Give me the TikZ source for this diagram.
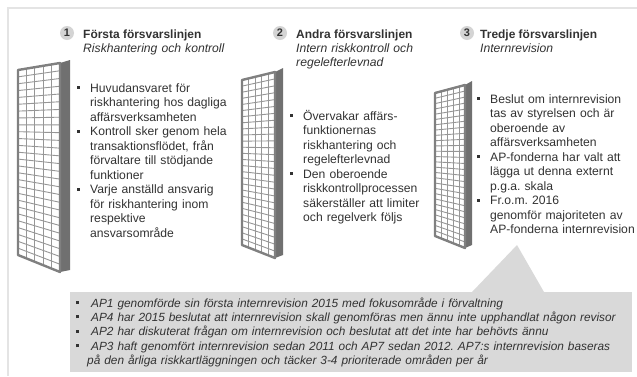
\documentclass[tikz,border=0pt]{standalone}
\usepackage{fontspec}
\setmainfont{Liberation Sans}
\usetikzlibrary{positioning,calc}
\frenchspacing
\definecolor{inkgray}{RGB}{50,50,50}
\definecolor{framegray}{RGB}{228,228,228}
\definecolor{notegray}{RGB}{217,217,217}
\definecolor{pillarline}{RGB}{150,150,150}
\definecolor{pillaredge}{RGB}{128,128,128}
\definecolor{pillarside}{RGB}{112,112,112}
\definecolor{numgray}{RGB}{212,212,212}
\newcommand{\sqbullet}{\raisebox{0.25em}{\rule{3bp}{3bp}}}
\newcommand{\itm}[1][13bp]{\leavevmode\llap{\makebox[#1][l]{\sqbullet}}}
\tikzset{
    num/.style={circle, fill=numgray, minimum size=14bp, inner sep=0pt, text=inkgray,
                font=\bfseries\fontsize{11}{11}\selectfont},
    head/.style={anchor=base west, inner sep=0pt, text=inkgray,
                 font=\bfseries\fontsize{12}{14.5}\selectfont},
    subhead/.style={anchor=base west, inner sep=0pt, text=inkgray, text width=170bp,
                    align=left, font=\itshape\fontsize{12.2}{14.5}\selectfont},
    bullets/.style={anchor=base west, inner sep=0pt, text=inkgray, text width=#1,
                    align=left, font=\fontsize{12.2}{14.6}\selectfont},
    note/.style={fill=notegray, inner sep=0pt, anchor=north west},
    outerframe/.style={draw=framegray, line width=1.5bp},
    face/.style={fill=white},
    gridline/.style={draw=pillarline, line width=0.9bp},
    faceedge/.style={draw=pillaredge, line width=2.4bp, line join=round},
    sideface/.style={fill=pillarside},
}

\begin{document}
\begin{tikzpicture}[x=1bp, y=-1bp]
    \useasboundingbox (0,0) rectangle (637,376);

    % Outer frame
    \draw[outerframe] (637,8) -- (8,8) -- (8,376);

    % Pillars: front face corners, then the side face
    \foreach \n/\xl/\xr/\xs/\ytl/\ytr/\yts/\ybl/\ybr/\ybs in
        {1/18/60/70/70/63/60/255/272/270,
         2/242/275/283/80/72/68/245/258/255,
         3/435/465/472/93/85/81/236/248/245}{
        \coordinate (p\n-tl) at (\xl,\ytl);
        \coordinate (p\n-tr) at (\xr,\ytr);
        \coordinate (p\n-br) at (\xr,\ybr);
        \coordinate (p\n-bl) at (\xl,\ybl);
        \coordinate (p\n-ts) at (\xs,\yts);
        \coordinate (p\n-bs) at (\xs,\ybs);
        \fill[sideface] (p\n-tr) -- (p\n-ts) -- (p\n-bs) -- (p\n-br) -- cycle;
        \fill[face] (p\n-tl) -- (p\n-tr) -- (p\n-br) -- (p\n-bl) -- cycle;
        \foreach \i in {1,...,4}
            \draw[gridline] ($(p\n-tl)!\i/5!(p\n-tr)$) -- ($(p\n-bl)!\i/5!(p\n-br)$);
        \foreach \j in {1,...,26}
            \draw[gridline] ($(p\n-tl)!\j/27!(p\n-bl)$) -- ($(p\n-tr)!\j/27!(p\n-br)$);
        \draw[faceedge] (p\n-tl) -- (p\n-tr) -- (p\n-br) -- (p\n-bl) -- cycle;
    }

    % First line
    \node[num] (n1) at (67,33) {1};
    \node[head] (h1) at (83,38) {Första försvarslinjen};
    \node[subhead] (s1) at (83,52.5) {Riskhantering och kontroll};
    \node[bullets=150bp] (b1) at (90,92) {%
        \itm Huvudansvaret för\\ riskhantering hos dagliga\\ affärsverksamheten\\
        \itm Kontroll sker genom hela\\ transaktionsflödet, från\\ förvaltare till stödjande\\ funktioner\\
        \itm Varje anställd ansvarig\\ för riskhantering inom\\ respektive\\ ansvarsområde};

    % Second line
    \node[num] (n2) at (280,33) {2};
    \node[head] (h2) at (296,38) {Andra försvarslinjen};
    \node[subhead] (s2) at (296,52.5) {Intern riskkontroll och\\ regelefterlevnad};
    \node[bullets=150bp] (b2) at (303,120) {%
        \itm Övervakar affärs-\\ funktionernas\\ riskhantering och\\ regelefterlevnad\\
        \itm Den oberoende\\ riskkontrollprocessen\\ säkerställer att limiter\\ och regelverk följs};

    % Third line
    \node[num] (n3) at (467,33) {3};
    \node[head] (h3) at (480,38) {Tredje försvarslinjen};
    \node[subhead] (s3) at (480,52.5) {Internrevision};
    \node[bullets=150bp] (b3) at (490,103) {%
        \itm Beslut om internrevision\\ tas av styrelsen och är\\ oberoende av\\ affärsverksamheten\\
        \itm AP-fonderna har valt att\\ lägga ut denna externt\\ p.g.a. skala\\
        \itm Fr.o.m. 2016\\ genomför majoriteten av\\ AP-fonderna internrevision};

    % Callout under the third line
    \node[note, minimum width=562bp, minimum height=80bp] (notebox) at (70,292) {};
    \coordinate (tip) at (517,245);
    \fill[notegray] ($(notebox.north west)+(402,0)$) -- (tip) -- ($(notebox.north west)+(474,0)$) -- cycle;
    \node[bullets=540bp, font=\itshape\fontsize{11.9}{14.5}\selectfont] (notes) at (87,307) {%
        \itm[11bp] AP1 genomförde sin första internrevision 2015 med fokusområde i förvaltning\\
        \itm[11bp] AP4 har 2015 beslutat att internrevision skall genomföras men ännu inte upphandlat någon revisor\\
        \itm[11bp] AP2 har diskuterat frågan om internrevision och beslutat att det inte har behövts ännu\\
        \itm[11bp] AP3 haft genomfört internrevision sedan 2011 och AP7 sedan 2012. AP7:s internrevision baseras\\
        på den årliga riskkartläggningen och täcker 3-4 prioriterade områden per år};
\end{tikzpicture}
\end{document}
